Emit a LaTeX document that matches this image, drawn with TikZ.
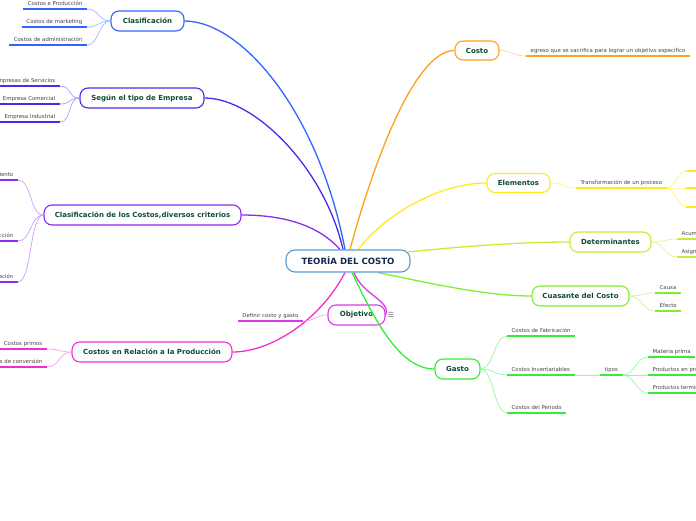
\documentclass[tikz,border=0pt]{standalone}
\usepackage{fontspec}
\setmainfont{DejaVu Sans}
\usetikzlibrary{backgrounds}
\definecolor{cBlue}{HTML}{2F66FF}
\definecolor{cIndigo}{HTML}{4A2AEE}
\definecolor{cPurple}{HTML}{8A2BEE}
\definecolor{cMagenta}{HTML}{F02FD0}
\definecolor{cObj}{HTML}{D83CEA}
\definecolor{cOrange}{HTML}{FF9F1A}
\definecolor{cYellow}{HTML}{FFEA1F}
\definecolor{cLime}{HTML}{C2EE38}
\definecolor{cGreen}{HTML}{80EE33}
\definecolor{cGasto}{HTML}{33EE33}
\definecolor{cCentral}{HTML}{5B9BD5}
\definecolor{titleTxt}{HTML}{0E4A3A}
\definecolor{centralTxt}{HTML}{14294D}
\definecolor{leafTxt}{HTML}{444444}
\begin{document}
\begin{tikzpicture}[x=1pt,y=-1pt,
  topic/.style={draw, rounded corners=8pt, line width=1.1pt, fill=white,
    font=\fontsize{7}{8}\selectfont\bfseries, text=titleTxt, inner sep=0pt, minimum height=20pt},
  central/.style={draw=cCentral, rounded corners=9pt, line width=1.1pt, fill=white,
    font=\fontsize{8.6}{9.6}\selectfont\bfseries, text=centralTxt, inner sep=0pt,
    minimum height=22pt, minimum width=124pt},
  leaf/.style={font=\fontsize{5.4}{6}\selectfont, text=leafTxt, inner xsep=4.5pt,
    inner ysep=2.3pt, text height=4pt, text depth=1.3pt},
  uline/.style={line width=1.5pt},
  sub/.style={line width=0.7pt},
  main/.style={line width=1.3pt}]
\useasboundingbox (0,0) rectangle (696,520);

% central
\node[central] (c) at (348,261) {TEORÍA DEL COSTO};

% topics
\node[topic, draw=cBlue, minimum width=73pt] (cl) at (147.5,21) {Clasificación};
\node[topic, draw=cIndigo, minimum width=124pt] (se) at (142,98) {Según el tipo de Empresa};
\node[topic, draw=cPurple, minimum width=197pt] (cc) at (142.5,215) {Clasificación de los Costos,diversos criterios};
\node[topic, draw=cMagenta, minimum width=160pt] (cr) at (152,352) {Costos en Relación a la Producción};
\node[topic, draw=cObj, minimum width=57pt] (ob) at (356.5,315) {Objetivo};
\node[font=\fontsize{7}{8}\selectfont, text=leafTxt!80] (menu) at (391,315) {☰};
\node[topic, draw=cOrange, minimum width=44pt, minimum height=19pt] (co) at (477,50.5) {Costo};
\node[topic, draw=cYellow, minimum width=63pt, minimum height=19pt] (el) at (518.5,183) {Elementos};
\node[topic, draw=cLime, minimum width=81pt] (de) at (610.5,242) {Determinantes};
\node[topic, draw=cGreen, minimum width=97pt] (cu) at (580.5,296) {Cuasante del Costo};
\node[topic, draw=cGasto, minimum width=45pt] (ga) at (457.5,369) {Gasto};

% main connectors
\begin{scope}[on background layer]
\draw[main, cBlue] ([xshift=-3pt]c.north) .. controls +(-27,-140) and +(56,0) .. (cl.east);
\draw[main, cIndigo] ([xshift=-5pt]c.north) .. controls +(-18,-80) and +(51,0) .. (se.east);
\draw[main, cPurple] ([xshift=-8pt]c.north) .. controls +(-25,-28) and +(34,0) .. (cc.east);
\draw[main, cOrange] ([xshift=2pt]c.north) .. controls +(30,-110) and +(-35,0) .. (co.west);
\draw[main, cYellow] ([xshift=10pt]c.north) .. controls +(27,-35) and +(-47,0) .. (el.west);
\draw[main, cLime] ([xshift=-3pt,yshift=9pt]c.east) .. controls +(60,-6) and +(-50,0) .. (de.west);
\draw[main, cGreen] ([xshift=30pt]c.south) .. controls +(62,13) and +(-42,0) .. (cu.west);
\draw[main, cObj] ([xshift=6pt]c.south) .. controls +(8,22) and +(6,-14) .. (ob.east);
\draw[main, cMagenta] ([xshift=-3pt]c.south) .. controls +(-25,48) and +(38,0) .. (cr.east);
\end{scope}
\draw[main, cGasto] ([xshift=4pt]c.south) .. controls +(23,48) and +(-35,0) .. (ga.west);

% Clasificación leaves
\node[leaf, anchor=south east] (cl1) at (87,9) {Costos e Producción};
\node[leaf, anchor=south east] (cl2) at (87,27) {Costos de marketing};
\node[leaf, anchor=south east] (cl3) at (87,45) {Costos de administración};
\foreach \n in {cl1,cl2,cl3}{
  \draw[uline, cBlue] (\n.south west) -- (\n.south east);
  \draw[sub, cBlue!45] (cl.west) .. controls +(-12,0) and +(12,0) .. (\n.south east);
}

% Según leaves
\node[leaf, anchor=south east] (se1) at (60,86) {Empresas de Servicios};
\node[leaf, anchor=south east] (se2) at (60,104) {Empresa Comercial};
\node[leaf, anchor=south east] (se3) at (60,122) {Empresa Industrial};
\foreach \n in {se1,se2,se3}{
  \draw[uline, cIndigo] (\n.south west) -- (\n.south east);
  \draw[sub, cIndigo!45] (se.west) .. controls +(-12,0) and +(12,0) .. (\n.south east);
}

% Clasificación de los costos leaves
\node[leaf, anchor=south east] (cc1) at (18,180) {Según su comportamiento};
\node[leaf, anchor=south east] (cc2) at (18,241) {Según la función en la producción};
\node[leaf, anchor=south east] (cc3) at (18,282) {Según su identificación};
\foreach \n in {cc1,cc2,cc3}{
  \draw[uline, cPurple] (\n.south west) -- (\n.south east);
  \draw[sub, cPurple!45] (cc.west) .. controls +(-14,0) and +(14,0) .. (\n.south east);
}

% Costos en relación leaves
\node[leaf, anchor=south east] (cr1) at (47,349) {Costos primos};
\node[leaf, anchor=south east] (cr2) at (47,367) {Costos de conversión};
\foreach \n in {cr1,cr2}{
  \draw[uline, cMagenta] (\n.south west) -- (\n.south east);
  \draw[sub, cMagenta!45] (cr.west) .. controls +(-12,0) and +(12,0) .. (\n.south east);
}

% Objetivo leaf
\node[leaf, anchor=south east] (ob1) at (303,321) {Definir costo y gasto};
\draw[uline, cObj] (ob1.south west) -- (ob1.south east);
\draw[sub, cObj!45] (ob.west) .. controls +(-12,0) and +(12,0) .. (ob1.south east);

% Costo leaf
\node[leaf, anchor=south west] (co1) at (526,56) {egreso que se sacrifica para lograr un objetivo específico};
\draw[uline, cOrange] (co1.south west) -- (co1.south east);
\draw[sub, cOrange!45] (co.east) .. controls +(12,0) and +(-12,0) .. (co1.south west);

% Elementos leaves
\node[leaf, anchor=south west] (el1) at (576,188) {Transformación de un proceso};
\draw[uline, cYellow] (el1.south west) -- (el1.south east);
\draw[sub, cYellow!55] (el.east) .. controls +(12,0) and +(-12,0) .. (el1.south west);
\coordinate (e1) at (686,171);
\coordinate (e2) at (686,188);
\coordinate (e3) at (686,207);
\foreach \n in {e1,e2,e3}{
  \draw[sub, cYellow!55] (el1.south east) .. controls +(7,0) and +(-7,0) .. (\n);
  \draw[uline, cYellow] (\n) -- ++(20,0);
}

% Determinantes leaves
\node[leaf, anchor=south west] (de1) at (677,239) {Acumulación};
\node[leaf, anchor=south west] (de2) at (677,257) {Asignación};
\foreach \n in {de1,de2}{
  \draw[uline, cLime] (\n.south west) -- (\n.south east);
  \draw[sub, cLime!55] (de.east) .. controls +(12,0) and +(-12,0) .. (\n.south west);
}

% Cuasante leaves
\node[leaf, anchor=south west] (cu1) at (655,293) {Causa};
\node[leaf, anchor=south west] (cu2) at (655,311) {Efecto};
\foreach \n in {cu1,cu2}{
  \draw[uline, cGreen] (\n.south west) -- (\n.south east);
  \draw[sub, cGreen!50] (cu.east) .. controls +(12,0) and +(-12,0) .. (\n.south west);
}

% Gasto leaves
\node[leaf, anchor=south west] (ga1) at (507,336) {Costos de Fabricación};
\node[leaf, anchor=south west] (ga2) at (507,375) {Costos Inventariables};
\node[leaf, anchor=south west] (ga3) at (507,413) {Costos del Periodo};
\foreach \n in {ga1,ga2,ga3}{
  \draw[uline, cGasto] (\n.south west) -- (\n.south east);
  \draw[sub, cGasto!50] (ga.east) .. controls +(13,0) and +(-13,0) .. (\n.south west);
}
\node[leaf, anchor=south west] (ti) at (600,375) {tipos};
\draw[uline, cGasto] (ti.south west) -- (ti.south east);
\draw[sub, cGasto!50] (ga2.south east) -- (ti.south west);
\node[leaf, anchor=south west] (ti1) at (648,357) {Materia prima};
\node[leaf, anchor=south west] (ti2) at (648,375) {Productos en proceso};
\node[leaf, anchor=south west] (ti3) at (648,393) {Productos terminados};
\foreach \n in {ti1,ti2,ti3}{
  \draw[uline, cGasto] (\n.south west) -- (\n.south east);
  \draw[sub, cGasto!50] (ti.south east) .. controls +(12,0) and +(-12,0) .. (\n.south west);
}
\end{tikzpicture}
\end{document}
